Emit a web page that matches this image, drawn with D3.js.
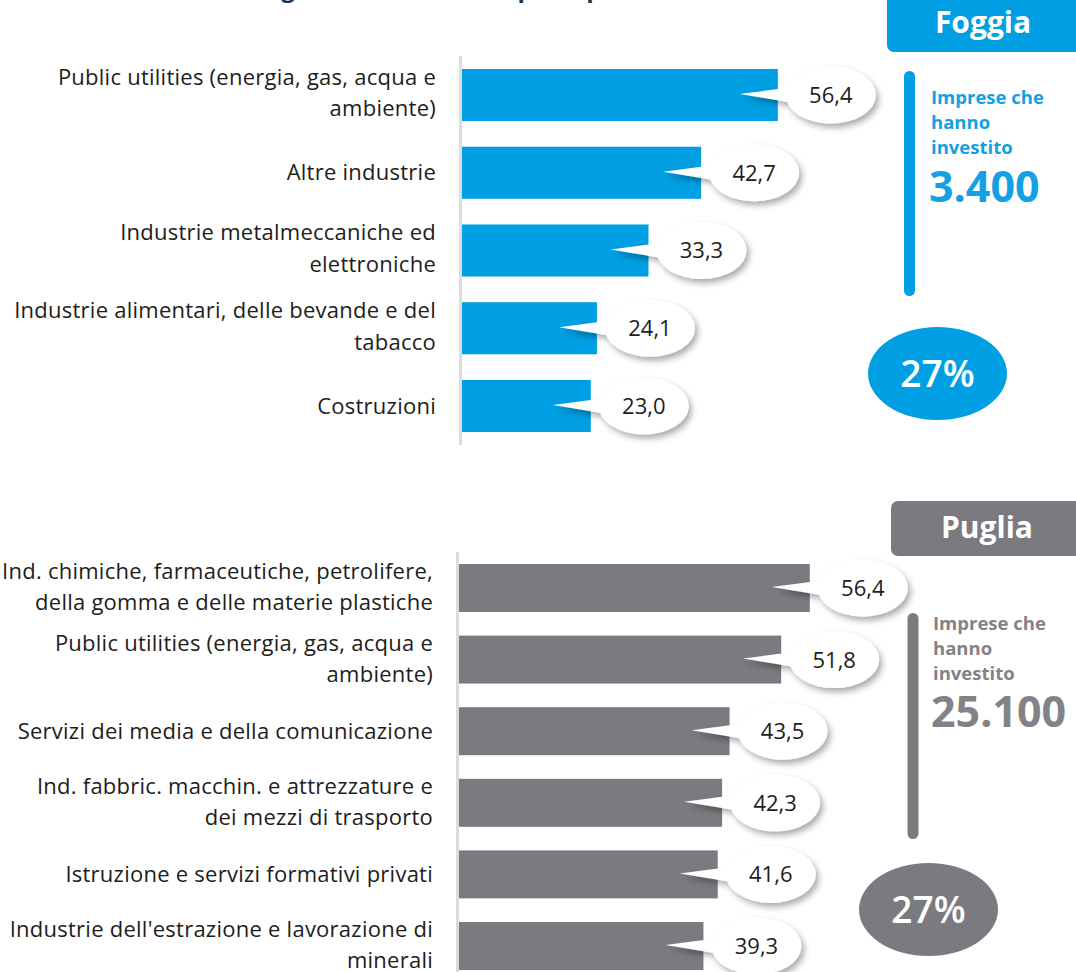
<!DOCTYPE html>
<html lang="it">
<head>
<meta charset="utf-8">
<script src="https://cdn.jsdelivr.net/npm/d3@7"></script>
<style>
  html, body { margin: 0; padding: 0; background: #ffffff; }
  svg { display: block; }
</style>
</head>
<body>
<script>
// ---- Data -------------------------------------------------------------
const titleText = "Incidenza degli investimenti nei principali settori";

const foggiaCategories = [
  "Public utilities (energia, gas, acqua e\nambiente)",
  "Altre industrie",
  "Industrie metalmeccaniche ed\nelettroniche",
  "Industrie alimentari, delle bevande e del\ntabacco",
  "Costruzioni"
];
const foggiaValues = [56.4, 42.7, 33.3, 24.1, 23.0];

const pugliaCategories = [
  "Ind. chimiche, farmaceutiche, petrolifere,\ndella gomma e delle materie plastiche",
  "Public utilities (energia, gas, acqua e\nambiente)",
  "Servizi dei media e della comunicazione",
  "Ind. fabbric. macchin. e attrezzature e\ndei mezzi di trasporto",
  "Istruzione e servizi formativi privati",
  "Industrie dell'estrazione e lavorazione di\nminerali"
];
const pugliaValues = [56.4, 51.8, 43.5, 42.3, 41.6, 39.3];

const areaNames = ["Foggia", "Puglia"];
const panelCaption = ["Imprese che", "hanno", "investito"];
const investingFirms = [3400, 25100];
const investingShare = [27, 27];

// ---- Setup ------------------------------------------------------------
const W = 1076, H = 972;
const BLUE = "#009fe3", GREY = "#7b7a80", INK = "#1d1d1b", AXIS = "#dcdcdc";

const it = d3.formatLocale({ decimal: ",", thousands: ".", grouping: [3], currency: ["€", ""] });
const fmtVal = it.format(".1f");
const fmtInt = it.format(",d");

const svg = d3.select("body").append("svg")
  .attr("width", W).attr("height", H).attr("viewBox", `0 0 ${W} ${H}`);

const defs = svg.append("defs");
defs.append("filter").attr("id", "bubbleShadow")
  .attr("x", "-30%").attr("y", "-40%").attr("width", "170%").attr("height", "190%")
  .append("feDropShadow")
  .attr("dx", 3).attr("dy", 4).attr("stdDeviation", 3)
  .attr("flood-color", "#000").attr("flood-opacity", 0.33);

// Title (sits mostly above the visible area)
svg.append("text")
  .attr("x", 131).attr("y", -3)
  .attr("font-family", "'Open Sans', sans-serif")
  .attr("font-weight", 700).attr("font-size", 24)
  .attr("fill", "#17375e")
  .text(titleText);

// ---- One bar block ----------------------------------------------------
function barBlock(opt) {
  const g = svg.append("g");
  const y = d3.scaleBand()
    .domain(opt.categories)
    .range([opt.top, opt.bottom])
    .paddingInner(0.33).paddingOuter(0);
  const x = d3.scaleLinear().domain([0, 60]).range([opt.x0, opt.x0 + opt.pxPerUnit * 60]);

  // vertical baseline
  g.append("line")
    .attr("x1", opt.x0 - 1.5).attr("x2", opt.x0 - 1.5)
    .attr("y1", opt.axisTop).attr("y2", opt.axisBottom)
    .attr("stroke", AXIS).attr("stroke-width", 3);

  const rows = opt.categories.map((c, i) => ({ cat: c, v: opt.values[i] }));

  // bars
  g.selectAll("rect.bar").data(rows).join("rect")
    .attr("class", "bar")
    .attr("x", x(0))
    .attr("y", d => y(d.cat))
    .attr("width", d => x(d.v) - x(0))
    .attr("height", y.bandwidth())
    .attr("fill", opt.color);

  // category labels
  const lab = g.selectAll("text.cat").data(rows).join("text")
    .attr("class", "cat")
    .attr("text-anchor", "end")
    .attr("font-family", "'Open Sans', sans-serif")
    .attr("font-size", 22)
    .attr("letter-spacing", 0.25)
    .attr("fill", INK);
  lab.each(function(d) {
    const lines = d.cat.split("\n");
    const cy = y(d.cat) + y.bandwidth() / 2 - (lines.length > 1 ? opt.wrapShift : 0);
    const lh = 31.5;
    const first = cy - (lines.length - 1) * lh / 2;
    d3.select(this).selectAll("tspan").data(lines).join("tspan")
      .attr("x", opt.labelRight)
      .attr("y", (l, k) => first + k * lh)
      .attr("dy", "0.35em")
      .text(l => l);
  });

  // value callouts: white bubble with a tail pointing into the bar
  const rx = 45, ry = 28.5;
  const bub = g.selectAll("g.bubble").data(rows).join("g")
    .attr("class", "bubble");
  bub.each(function(d) {
    const end = x(d.v);
    const cy = y(d.cat) + y.bandwidth() / 2;
    const cx = end + 53;
    const tip = end - 38;
    const sel = d3.select(this);
    const shape = sel.append("g").attr("filter", "url(#bubbleShadow)");
    shape.append("path")
      .attr("d", `M${tip},${cy - 1} L${cx - 30},${cy - 9} L${cx - 30},${cy + 9} Z`)
      .attr("fill", "#ffffff");
    shape.append("ellipse")
      .attr("cx", cx).attr("cy", cy).attr("rx", rx).attr("ry", ry)
      .attr("fill", "#ffffff");
    sel.append("text")
      .attr("x", cx).attr("y", cy).attr("dy", "0.36em")
      .attr("text-anchor", "middle")
      .attr("font-family", "'Open Sans', sans-serif")
      .attr("font-size", 22)
      .attr("fill", INK)
      .text(fmtVal(d.v));
  });
}

// ---- Side panel ---------------------------------------------------------
function sidePanel(p) {
  const g = svg.append("g");
  // header tab
  g.append("rect")
    .attr("x", p.tabX).attr("y", p.tabY).attr("width", W - p.tabX + 20).attr("height", p.tabH)
    .attr("rx", 7).attr("fill", p.color);
  g.append("text")
    .attr("x", p.tabTextX).attr("y", p.tabBase)
    .attr("text-anchor", "middle")
    .attr("font-family", "'Open Sans', sans-serif").attr("font-weight", 700)
    .attr("font-size", 30).attr("fill", "#ffffff")
    .text(p.name);
  // vertical accent bar
  g.append("line")
    .attr("x1", p.barX).attr("x2", p.barX)
    .attr("y1", p.barTop + 5.5).attr("y2", p.barBottom - 5.5)
    .attr("stroke", p.color).attr("stroke-width", 11).attr("stroke-linecap", "round");
  // caption
  g.selectAll("text.cap").data(panelCaption).join("text")
    .attr("class", "cap")
    .attr("x", p.textX).attr("y", (d, i) => p.capBase + i * 25)
    .attr("font-family", "'Open Sans', sans-serif").attr("font-weight", 700)
    .attr("font-size", 18.5).attr("fill", p.textColor)
    .text(d => d);
  g.append("text")
    .attr("x", p.textX - 2).attr("y", p.bigBase)
    .attr("font-family", "'Open Sans', sans-serif").attr("font-weight", 700)
    .attr("font-size", 43).attr("fill", p.textColor)
    .text(fmtInt(p.firms));
  // share ellipse
  g.append("ellipse")
    .attr("cx", p.ellX).attr("cy", p.ellY).attr("rx", 69.5).attr("ry", 46.5)
    .attr("fill", p.color);
  g.append("text")
    .attr("x", p.ellX).attr("y", p.ellY).attr("dy", "0.36em")
    .attr("text-anchor", "middle")
    .attr("font-family", "'Open Sans', sans-serif").attr("font-weight", 600)
    .attr("font-size", 37).attr("fill", "#ffffff")
    .text(p.share + "%");
}

// ---- Foggia -------------------------------------------------------------
barBlock({
  categories: foggiaCategories, values: foggiaValues, color: BLUE,
  top: 69, bottom: 432, x0: 462, pxPerUnit: 5.6,
  axisTop: 56, axisBottom: 445, labelRight: 436, wrapShift: 2
});
sidePanel({
  name: areaNames[0], color: BLUE, textColor: "#14a0e2",
  tabX: 887, tabY: -10, tabH: 62, tabTextX: 983, tabBase: 33,
  barX: 909.5, barTop: 71, barBottom: 296,
  textX: 931, capBase: 104, bigBase: 202,
  firms: investingFirms[0],
  ellX: 937.5, ellY: 373.5, share: investingShare[0]
});

// ---- Puglia -------------------------------------------------------------
barBlock({
  categories: pugliaCategories, values: pugliaValues, color: GREY,
  top: 564, bottom: 970, x0: 459, pxPerUnit: 6.22,
  axisTop: 552, axisBottom: 975, labelRight: 433, wrapShift: 1
});
sidePanel({
  name: areaNames[1], color: GREY, textColor: "#838287",
  tabX: 891, tabY: 501, tabH: 55, tabTextX: 987, tabBase: 538,
  barX: 913, barTop: 613, barBottom: 839,
  textX: 933, capBase: 630, bigBase: 727,
  firms: investingFirms[1],
  ellX: 928.5, ellY: 909.5, share: investingShare[1]
});
</script>
</body>
</html>
